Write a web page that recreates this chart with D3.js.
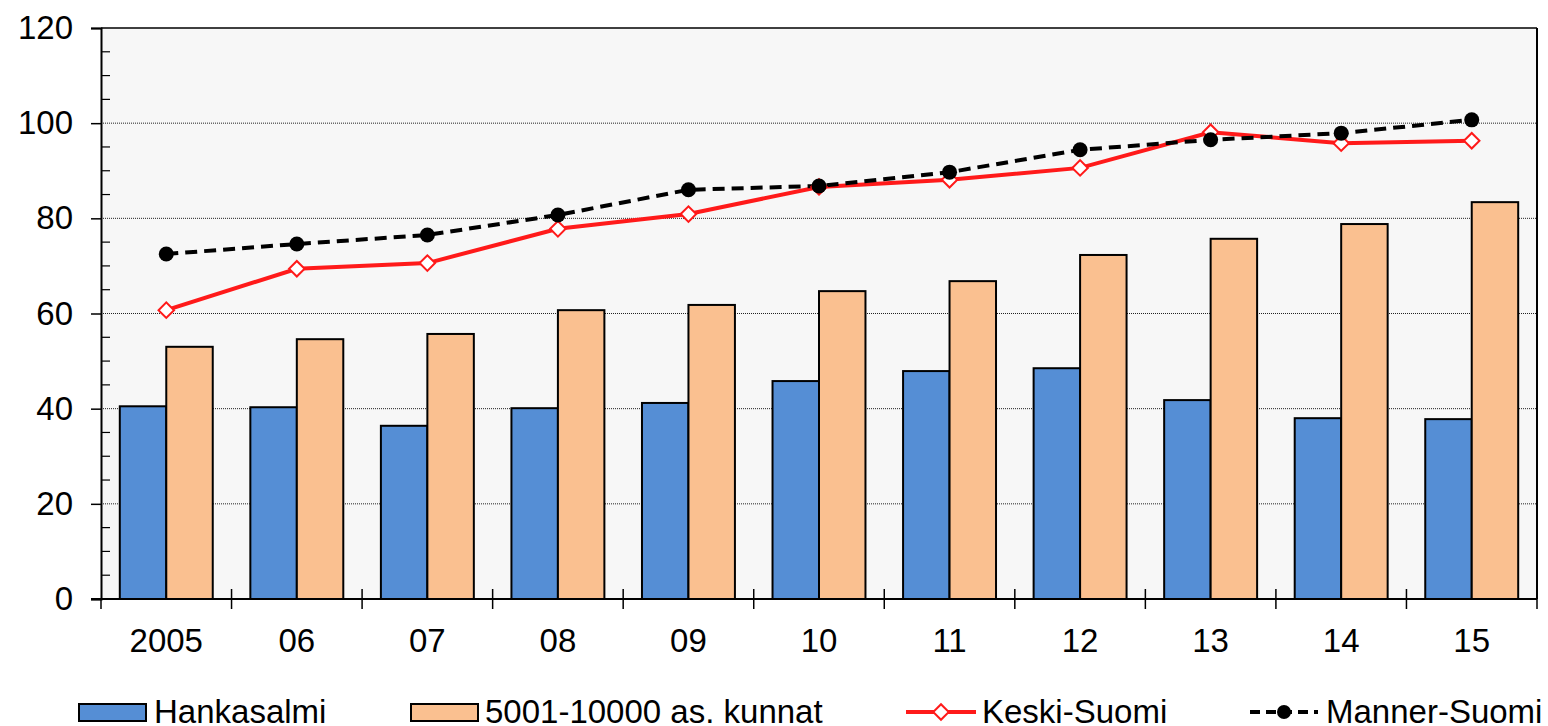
<!DOCTYPE html>
<html><head><meta charset="utf-8">
<script src="https://cdn.jsdelivr.net/npm/d3@7"></script>
<style>body{margin:0;background:#fff}svg{display:block}</style>
</head><body>
<script>
const categories = ["2005","06","07","08","09","10","11","12","13","14","15"];
const hankasalmi = [40.5,40.3,36.4,40.1,41.2,45.8,47.9,48.5,41.8,38.0,37.8];
const kunnat = [53.0,54.6,55.7,60.7,61.8,64.7,66.8,72.3,75.7,78.8,83.4];
const keskiSuomi = [60.7,69.4,70.6,77.8,80.9,86.6,88.1,90.6,98.1,95.8,96.3];
const mannerSuomi = [72.5,74.6,76.5,80.7,86.0,86.8,89.7,94.4,96.5,97.9,100.7];
const yTicks = [0,20,40,60,80,100,120];
const seriesNames = ["Hankasalmi","5001-10000 as. kunnat","Keski-Suomi","Manner-Suomi"];

const W=1548,H=726;
const L=101,R=1537,T=28,B=599;
const svg=d3.select("body").append("svg").attr("width",W).attr("height",H);
const font="'Liberation Sans', Arial, sans-serif";
const fs=33;

const x=d3.scaleBand().domain(categories).range([L,R]).paddingInner(0).paddingOuter(0);
const y=d3.scaleLinear().domain([0,120]).range([B,T]);
const bw=x.bandwidth();
const barW=bw*0.356;
const sub=d3.scaleBand().domain([0,1]).range([0,barW*2]);

svg.append("rect").attr("x",L).attr("y",T).attr("width",R-L).attr("height",B-T).attr("fill","#f7f7f7");

// gridlines
svg.append("g").selectAll("line").data(yTicks.filter(d=>d>0&&d<120)).join("line")
 .attr("x1",L).attr("x2",R).attr("y1",d=>y(d)).attr("y2",d=>y(d))
 .attr("stroke","#222").attr("stroke-width",1).attr("stroke-dasharray","1,1");

// bars
const gb=svg.append("g");
categories.forEach((c,i)=>{
  const x0=x(c)+(bw-barW*2)/2;
  [[hankasalmi[i],"#558ed5"],[kunnat[i],"#fac090"]].forEach(([v,col],j)=>{
    gb.append("rect").attr("x",x0+sub(j)).attr("y",y(v)).attr("width",barW).attr("height",y(0)-y(v))
      .attr("fill",col).attr("stroke","#000").attr("stroke-width",2);
  });
});

// border top/right
svg.append("line").attr("x1",L).attr("x2",R).attr("y1",T).attr("y2",T).attr("stroke","#000").attr("stroke-width",1.5);
svg.append("line").attr("x1",R).attr("x2",R).attr("y1",T).attr("y2",B).attr("stroke","#000").attr("stroke-width",2);

// y axis
const yAxis=d3.axisLeft(y).tickValues(yTicks).tickSize(10).tickPadding(18);
const gy=svg.append("g").attr("transform",`translate(${L},0)`).call(yAxis);
gy.select(".domain").attr("stroke","#000").attr("stroke-width",2);
gy.selectAll(".tick line").attr("stroke","#000").attr("stroke-width",1.5);
gy.selectAll("text").attr("font-family",font).attr("font-size",fs).attr("fill","#000");
// minor ticks
svg.append("g").selectAll("line").data(d3.range(5,120,5).filter(d=>d%20!==0)).join("line")
 .attr("x1",L).attr("x2",L+9).attr("y1",d=>y(d)).attr("y2",d=>y(d)).attr("stroke","#000").attr("stroke-width",1.2);

// x axis
const gx=svg.append("g").attr("transform",`translate(0,${B})`);
gx.append("line").attr("x1",L-10).attr("x2",R).attr("y1",0).attr("y2",0).attr("stroke","#000").attr("stroke-width",2);
const bounds=categories.map(c=>x(c)).concat([R]);
gx.selectAll("line.t").data(bounds).join("line").attr("class","t")
 .attr("x1",d=>d).attr("x2",d=>d).attr("y1",(d,i)=>i===0?0:-10).attr("y2",10).attr("stroke","#000").attr("stroke-width",1.5);
gx.selectAll("text").data(categories).join("text")
 .attr("x",d=>x(d)+bw/2).attr("y",53).attr("text-anchor","middle")
 .attr("font-family",font).attr("font-size",fs).text(d=>d);

// lines
const cx=c=>x(c)+bw/2;
const lineK=d3.line().x((d,i)=>cx(categories[i])).y(d=>y(d));
svg.append("path").datum(keskiSuomi).attr("d",lineK).attr("fill","none").attr("stroke","#ff1a1a").attr("stroke-width",4);
svg.append("path").datum(mannerSuomi).attr("d",lineK).attr("fill","none").attr("stroke","#000").attr("stroke-width",4).attr("stroke-dasharray","12,7");
svg.append("g").selectAll("path").data(keskiSuomi).join("path")
 .attr("transform",(d,i)=>`translate(${cx(categories[i])},${y(d)}) rotate(45)`)
 .attr("d",d3.symbol().type(d3.symbolSquare).size(120)).attr("fill","#fff").attr("stroke","#ff1a1a").attr("stroke-width",2);
svg.append("g").selectAll("circle").data(mannerSuomi).join("circle")
 .attr("cx",(d,i)=>cx(categories[i])).attr("cy",d=>y(d)).attr("r",7.5).attr("fill","#000");

// legend
const lg=svg.append("g");
const ly=712, tb=723;
lg.append("rect").attr("x",79).attr("y",704).attr("width",67).attr("height",17).attr("fill","#558ed5").attr("stroke","#000").attr("stroke-width",2);
lg.append("text").attr("x",154).attr("y",tb).text(seriesNames[0]);
lg.append("rect").attr("x",411).attr("y",704).attr("width",67).attr("height",17).attr("fill","#fac090").attr("stroke","#000").attr("stroke-width",2);
lg.append("text").attr("x",485).attr("y",tb).text(seriesNames[1]);
lg.append("line").attr("x1",906).attr("x2",976).attr("y1",ly).attr("y2",ly).attr("stroke","#ff1a1a").attr("stroke-width",4);
lg.append("path").attr("transform",`translate(941,${ly}) rotate(45)`).attr("d",d3.symbol().type(d3.symbolSquare).size(120)).attr("fill","#fff").attr("stroke","#ff1a1a").attr("stroke-width",2);
lg.append("text").attr("x",982).attr("y",tb).text(seriesNames[2]);
lg.append("line").attr("x1",1250).attr("x2",1318).attr("y1",ly).attr("y2",ly).attr("stroke","#000").attr("stroke-width",4).attr("stroke-dasharray","10,6");
lg.append("circle").attr("cx",1284).attr("cy",ly).attr("r",7).attr("fill","#000");
lg.append("text").attr("x",1326).attr("y",tb).text(seriesNames[3]);
lg.selectAll("text").attr("font-family",font).attr("font-size",fs).attr("fill","#000");
</script>
</body></html>
